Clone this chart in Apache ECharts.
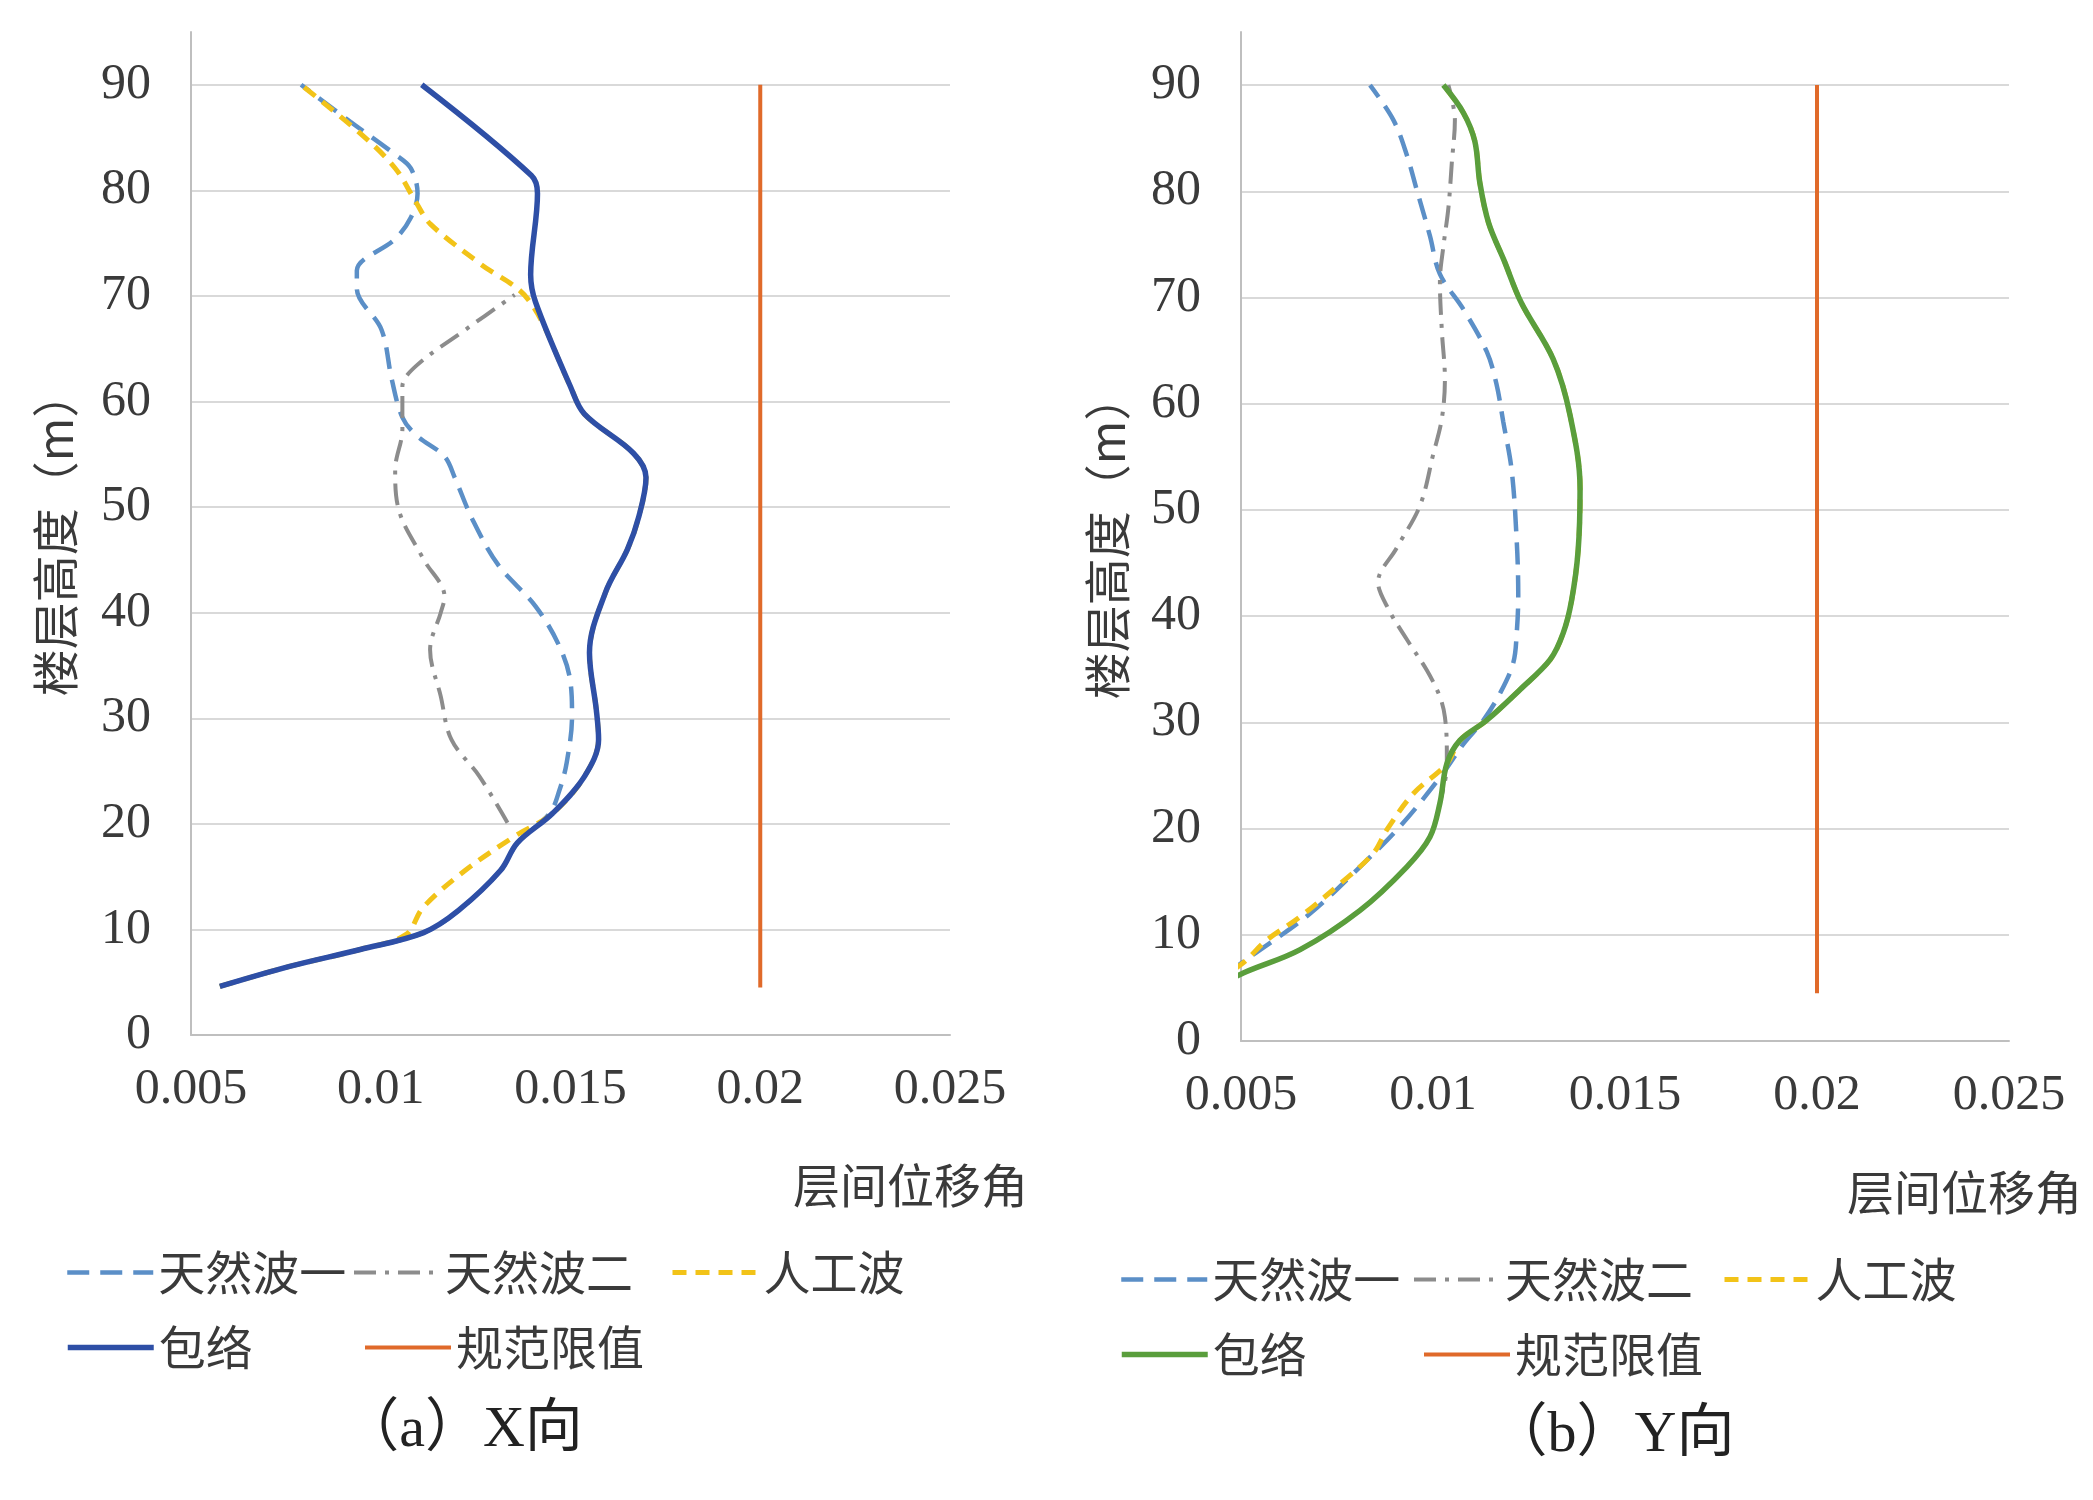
<!DOCTYPE html>
<html>
<head>
<meta charset="utf-8">
<script src="https://cdn.jsdelivr.net/npm/echarts@6/dist/echarts.min.js"></script>
<style>
  html, body { margin: 0; padding: 0; background: #fff; }
  #chartX { position: absolute; left: 0; top: 0; width: 1046px; height: 1500px; }
  #chartY { position: absolute; left: 1046px; top: 0; width: 1047px; height: 1500px; }
</style>
</head>
<body>
<div id="chartX"></div>
<div id="chartY"></div>
<script>
// [inter-storey drift, height (m)]
const xWave1 = [
  [0.00576, 4.6], [0.0076, 6.5], [0.00946, 8.1], [0.01113, 9.7], [0.01205, 11.8], [0.01316, 15.6],
  [0.0136, 18.2], [0.01445, 21], [0.01471, 23.2], [0.0149, 25.8], [0.01504, 30.2], [0.015, 33.4],
  [0.01471, 36.8], [0.01408, 40.6], [0.0131, 44.5], [0.01242, 48.8], [0.01195, 52.8], [0.01168, 54.8],
  [0.01094, 56.8], [0.01057, 58.5], [0.01029, 62.1], [0.01002, 66.8], [0.00937, 70.7], [0.00937, 72.4],
  [0.01038, 75.4], [0.01079, 77.4], [0.01097, 79.7], [0.01079, 82.1], [0.01038, 83.4], [0.0092, 86.5],
  [0.0079, 90]
];
const xWave2 = [
  [0.01334, 20.1], [0.0126, 24.5], [0.01186, 28], [0.01158, 32.1], [0.0113, 36.5], [0.01158, 40],
  [0.01168, 41.5], [0.01112, 45.1], [0.01047, 49.8], [0.01038, 53.5], [0.01057, 57.4], [0.01057, 61.4],
  [0.01094, 63.4], [0.01223, 66.8], [0.01353, 70.1]
];
const xArtificial = [
  [0.00576, 4.6], [0.0076, 6.5], [0.00946, 8.1], [0.01066, 9.5], [0.01112, 12.1], [0.01223, 15.6],
  [0.01352, 18.8], [0.01453, 21], [0.01537, 24.5], [0.01574, 28], [0.01568, 30.8], [0.0155, 36.2],
  [0.01592, 41.9], [0.0165, 46], [0.0168, 49.1], [0.01699, 52.8], [0.01666, 55.1], [0.01537, 58.8],
  [0.015, 61.4], [0.0139, 69.6], [0.0126, 73.1], [0.01131, 76.8], [0.01094, 78.8], [0.01038, 82.1],
  [0.00946, 85.4], [0.0079, 90]
];
const xEnvelope = [
  [0.00576, 4.6], [0.0076, 6.5], [0.00946, 8.1], [0.01113, 9.7], [0.01205, 11.8], [0.01316, 15.6],
  [0.0136, 18.2], [0.01453, 21], [0.01537, 24.5], [0.01574, 28], [0.01568, 30.8], [0.0155, 36.2],
  [0.01592, 41.9], [0.0165, 46], [0.0168, 49.1], [0.01699, 52.8], [0.01666, 55.1], [0.01537, 58.8],
  [0.015, 61.4], [0.01408, 69.4], [0.01395, 72], [0.01413, 79.7], [0.01397, 81.4], [0.01108, 90]
];
const xLimit = [[0.02, 4.5], [0.02, 90]];

const yWave1 = [
  [0.0039, 4.5], [0.00523, 7.9], [0.0068, 12], [0.0081, 16.4], [0.00914, 20.2], [0.0102, 24.9],
  [0.0108, 28], [0.01131, 30.2], [0.01174, 32.7], [0.01209, 35.6], [0.01218, 38.4], [0.01222, 42],
  [0.01218, 47.1], [0.01205, 53.7], [0.01183, 58.3], [0.01165, 61.9], [0.0114, 64.9], [0.01079, 68.9],
  [0.01018, 72.2], [0.00992, 75.8], [0.00958, 80.1], [0.00932, 83.4], [0.00897, 86.7], [0.00836, 90]
];
const yWave2 = [
  [0.004, 4.5], [0.00506, 6.4], [0.00654, 8.6], [0.0081, 12.3], [0.00932, 16.4], [0.00992, 19.2],
  [0.01018, 22.4], [0.01036, 26.1], [0.01036, 27.4], [0.01031, 30.5], [0.01018, 32.4], [0.00984, 34.9],
  [0.00932, 37.8], [0.00885, 40.6], [0.00857, 43.2], [0.00905, 46.4], [0.00966, 50.4], [0.01001, 55.3],
  [0.01023, 58.6], [0.01031, 62.3], [0.01023, 66.9], [0.01018, 71.5], [0.01027, 74.8], [0.0104, 78.4],
  [0.01049, 82.7], [0.01057, 86.7], [0.0104, 90]
];
const yArtificial = [
  [0.0038, 4.5], [0.005, 7.2], [0.00567, 9.5], [0.00654, 11.7], [0.00758, 14.8], [0.00845, 17.7],
  [0.0088, 19.9], [0.00949, 23.3], [0.01036, 26.1], [0.0107, 28.3], [0.0114, 30.2], [0.01227, 33.1],
  [0.01305, 35.9], [0.01339, 38.4], [0.01361, 41.5], [0.01378, 46.2], [0.01383, 52], [0.01357, 58.9],
  [0.01313, 64.2], [0.0123, 69.5], [0.01185, 73.5], [0.01145, 77], [0.01122, 80.8], [0.01109, 84.7],
  [0.01079, 87.4], [0.01027, 90]
];
const yEnvelope = [
  [0.004, 4.5], [0.00506, 6.4], [0.00654, 8.6], [0.0081, 12.3], [0.00932, 16.4], [0.00992, 19.2],
  [0.01018, 22.4], [0.01036, 26.1], [0.0107, 28.3], [0.0114, 30.2], [0.01227, 33.1], [0.01305, 35.9],
  [0.01339, 38.4], [0.01361, 41.5], [0.01378, 46.2], [0.01383, 52], [0.01357, 58.9], [0.01313, 64.2],
  [0.0123, 69.5], [0.01185, 73.5], [0.01145, 77], [0.01122, 80.8], [0.01109, 84.7], [0.01079, 87.4],
  [0.01027, 90]
];
const yLimit = [[0.02, 4.5], [0.02, 90]];

const seriesNames = ['天然波一', '天然波二', '人工波', '包络', '规范限值'];
const driftTicks = [0.005, 0.025, 0.005];   // min, max, interval
const heightTicks = [0, 95, 10];

const numFont = '"Liberation Serif", "Noto Sans CJK SC", serif';
const cjkFont = '"Noto Sans CJK SC", sans-serif';
const textColor = '#3a3a3a';

function makeOption(p) {
  const legendBase = {
    orient: 'horizontal', padding: 0, itemWidth: 86, itemHeight: 14,
    selectedMode: false,
    itemStyle: { opacity: 0 },      // hide the marker dot, keep the line sample
    lineStyle: { width: 'inherit' },
    textStyle: { fontSize: 47, color: textColor, fontFamily: cjkFont }
  };
  const legends = seriesNames.map((name, i) => Object.assign({}, legendBase, {
    data: [name],
    left: p.legendLeft[i],
    top: i < 3 ? p.legendTop[0] : p.legendTop[1]
  }));

  const line = (name, data, color, width, type) => ({
    name: name, type: 'line', data: data, smooth: 0.35, symbol: 'none',
    lineStyle: { color: color, width: width, type: type, cap: 'butt' },
    itemStyle: { color: color }
  });

  return {
    animation: false,
    backgroundColor: '#fff',
    grid: p.grid,
    legend: legends,
    xAxis: {
      type: 'value', min: driftTicks[0], max: driftTicks[1], interval: driftTicks[2],
      axisLine: { show: true, onZero: false, lineStyle: { color: '#bfbfbf', width: 2 } },
      axisTick: { show: false },
      splitLine: { show: false },
      axisLabel: {
        fontSize: 50, color: textColor, fontFamily: numFont, margin: 30,
        formatter: v => String(+v.toFixed(3))
      }
    },
    yAxis: {
      type: 'value', min: heightTicks[0], max: heightTicks[1], interval: heightTicks[2],
      name: '楼层高度（m）', nameLocation: 'middle', nameRotate: 90, nameGap: p.yNameGap,
      nameTextStyle: { fontSize: 47, color: textColor, fontFamily: cjkFont },
      axisLine: { show: true, onZero: false, lineStyle: { color: '#bfbfbf', width: 2 } },
      axisTick: { show: false },
      splitLine: { show: true, showMaxLine: false, lineStyle: { color: '#d9d9d9', width: 2 } },
      axisLabel: {
        fontSize: 50, color: textColor, fontFamily: numFont, margin: 40,
        formatter: v => (v > 90 ? '' : String(v))
      }
    },
    graphic: [
      {
        type: 'text', x: p.nameX, y: p.nameY,
        style: { text: '层间位移角', fontSize: 47, fontFamily: cjkFont, fill: textColor,
                 align: 'right', verticalAlign: 'middle' }
      },
      {
        type: 'text', x: p.captionX, y: p.captionY,
        style: { text: p.caption, fontSize: 58, fontFamily: numFont, fill: '#222',
                 align: 'center', verticalAlign: 'middle' }
      }
    ],
    series: [
      line(seriesNames[0], p.data[0], '#5b8fc7', 4.5, [22, 11]),
      line(seriesNames[1], p.data[1], '#8c8c8c', 4, [22, 9, 4, 9]),
      line(seriesNames[2], p.data[2], '#f2c318', 5, [14, 9]),
      line(seriesNames[3], p.data[3], p.envelopeColor, 5.5, 'solid'),
      line(seriesNames[4], p.data[4], '#e06a2a', 4, 'solid')
    ]
  };
}

const chartX = echarts.init(document.getElementById('chartX'), null, { renderer: 'canvas' });
chartX.setOption(makeOption({
  grid: { left: 191, top: 32, width: 759, height: 1003 },
  data: [xWave1, xWave2, xArtificial, xEnvelope, xLimit],
  envelopeColor: '#2e4fa6',
  legendLeft: [65, 352, 670, 65, 363],
  legendTop: [1249, 1324],
  yNameGap: 112,
  nameX: 1028, nameY: 1185,
  caption: '（a）X向', captionX: 462, captionY: 1431
}));

const chartY = echarts.init(document.getElementById('chartY'), null, { renderer: 'canvas' });
chartY.setOption(makeOption({
  grid: { left: 195, top: 32, width: 768, height: 1009 },
  data: [yWave1, yWave2, yArtificial, yEnvelope, yLimit],
  envelopeColor: '#5a9e3c',
  legendLeft: [73, 366, 676, 73, 376],
  legendTop: [1256, 1331],
  yNameGap: 110,
  nameX: 1036, nameY: 1192,
  caption: '（b）Y向', captionX: 566, captionY: 1436
}));
</script>
</body>
</html>
